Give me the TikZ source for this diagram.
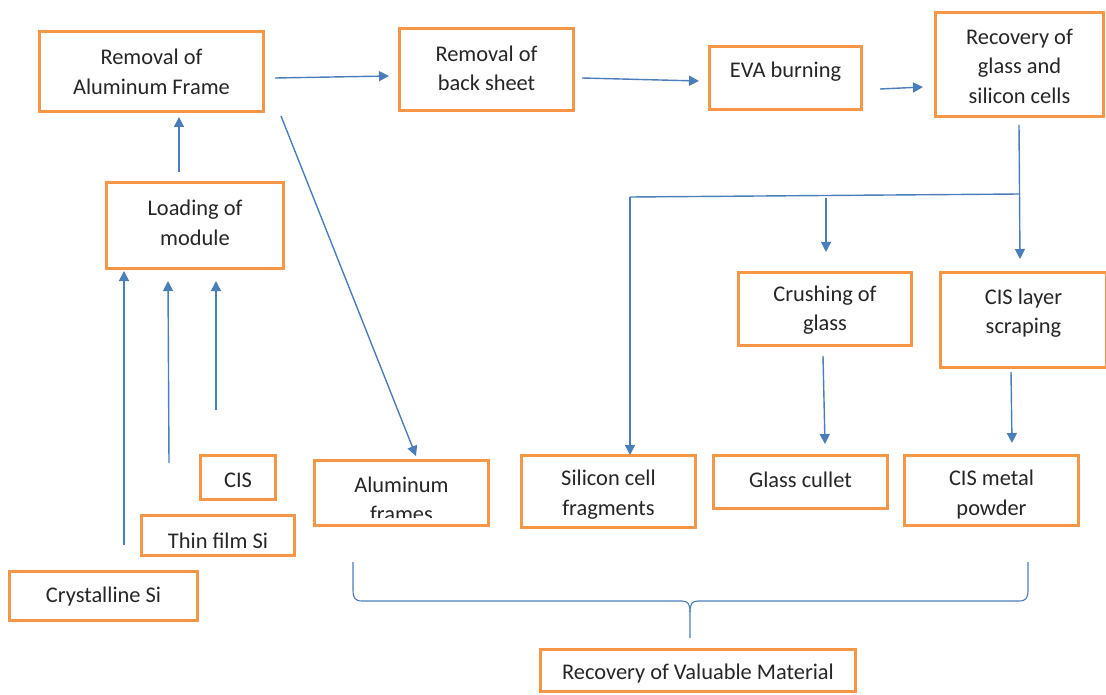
\documentclass[tikz,border=0pt]{standalone}
\usepackage{fontspec}
\setmainfont{Carlito}
\usetikzlibrary{arrows.meta}
\definecolor{boxorange}{HTML}{F79646}
\definecolor{arrowblue}{HTML}{4A7EBB}
\definecolor{txtgray}{HTML}{262626}
\newcommand\mybox[7]{\node[box, minimum width={#4-#2-3}, minimum height={#5-#3-3}] (#1) at ({(#2+#4)/2},{(#3+#5)/2}) {};
  \node[boxtext] (#1-t) at ({(#2+#4)/2},{#6+2}) {#7};}
\begin{document}
\begin{tikzpicture}[x=1pt,y=-1pt,
  box/.style={draw=boxorange, line width=3pt, fill=white, inner sep=0pt},
  boxtext/.style={align=center, inner sep=0pt, text=txtgray, font=\fontsize{22.4}{29.5}\selectfont},
  conn/.style={draw=arrowblue, line width=1.4pt},
  arr/.style={conn, -{Triangle[length=10pt,width=10pt]}}]
\useasboundingbox (0,0) rectangle (1106,695);
% boxes
\mybox{raf}{38}{30}{265}{113}{70}{Removal of\\Aluminum Frame}
\mybox{rbs}{398}{27}{575}{112}{66.5}{Removal of\\back sheet}
\mybox{eva}{708}{45}{863}{111}{70}{EVA burning}
\mybox{rgs}{934}{11}{1105}{118}{64}{Recovery of\\glass and\\silicon cells}
\mybox{lom}{105}{181}{285}{270}{221}{Loading of\\module}
\mybox{cis}{199}{454}{277}{501}{478}{CIS}
\mybox{tfs}{140}{514}{296}{557}{539}{Thin film Si}
\mybox{csi}{8}{570}{199}{622}{595}{Crystalline Si}
\node[box, minimum width=174, minimum height=65] (alf) at (401.5,493) {};
\begin{scope}
\clip (315,461) rectangle (488,517.5);
\node[boxtext] (alf-t) at (401.5,499.5) {Aluminum\\frames};
\end{scope}
\mybox{scf}{520}{454}{697}{529}{492.5}{Silicon cell\\fragments}
\mybox{gcu}{712}{454}{889}{510}{478}{Glass cullet}
\mybox{cmp}{903}{454}{1080}{527}{492.5}{CIS metal\\powder}
\mybox{cog}{737}{271}{913}{347}{308}{Crushing of\\glass}
\mybox{cls}{939}{271}{1108}{369}{311}{CIS layer\\scraping}
\mybox{rvm}{539}{648}{857}{693}{672}{Recovery of Valuable Material}
% connector end points
\coordinate (a1s) at (275,78); \coordinate (a1e) at (389,76);
\coordinate (a2s) at (582,78); \coordinate (a2e) at (699,81);
\coordinate (a3s) at (880,89); \coordinate (a3e) at (923,87);
\coordinate (a4s) at (179,172); \coordinate (a4e) at (179,117);
\coordinate (a5s) at (281,116); \coordinate (a5e) at (416,456);
\coordinate (u1s) at (124,545); \coordinate (u1e) at (124,271);
\coordinate (u2s) at (169,463); \coordinate (u2e) at (168,281);
\coordinate (u3s) at (216,410); \coordinate (u3e) at (216,281);
\coordinate (t0) at (1019,125); \coordinate (tj) at (1020,194);
\coordinate (t1) at (1020,259);
\coordinate (tl) at (630,197); \coordinate (t2) at (630,455);
\coordinate (tm) at (826,198); \coordinate (t3) at (826,252);
\coordinate (c1s) at (823,356); \coordinate (c1e) at (825,444);
\coordinate (c2s) at (1011,372); \coordinate (c2e) at (1012,443);
% arrows
\draw[arr] (a1s) -- (a1e);
\draw[arr] (a2s) -- (a2e);
\draw[arr] (a3s) -- (a3e);
\draw[arr] (a4s) -- (a4e);
\draw[arr] (a5s) -- (a5e);
\draw[arr] (u1s) -- (u1e);
\draw[arr] (u2s) -- (u2e);
\draw[arr] (u3s) -- (u3e);
\draw[arr] (t0) -- (t1);
\draw[conn] (tj) -- (tl);
\draw[arr] (tl) -- (t2);
\draw[arr] (tm) -- (t3);
\draw[arr] (c1s) -- (c1e);
\draw[arr] (c2s) -- (c2e);
% brace
\coordinate (bl) at (353,562); \coordinate (br) at (1028,562); \coordinate (bt) at (690,638);
\draw[conn, line width=1.1pt] (bl) -- (353,590) .. controls (353,598) and (355,601) .. (362,601) -- (682,601) .. controls (688,601) and (690,604) .. (690,612) -- (bt);
\draw[conn, line width=1.1pt] (br) -- (1028,590) .. controls (1028,598) and (1026,601) .. (1019,601) -- (698,601) .. controls (692,601) and (690,604) .. (690,612);
\end{tikzpicture}
\end{document}
